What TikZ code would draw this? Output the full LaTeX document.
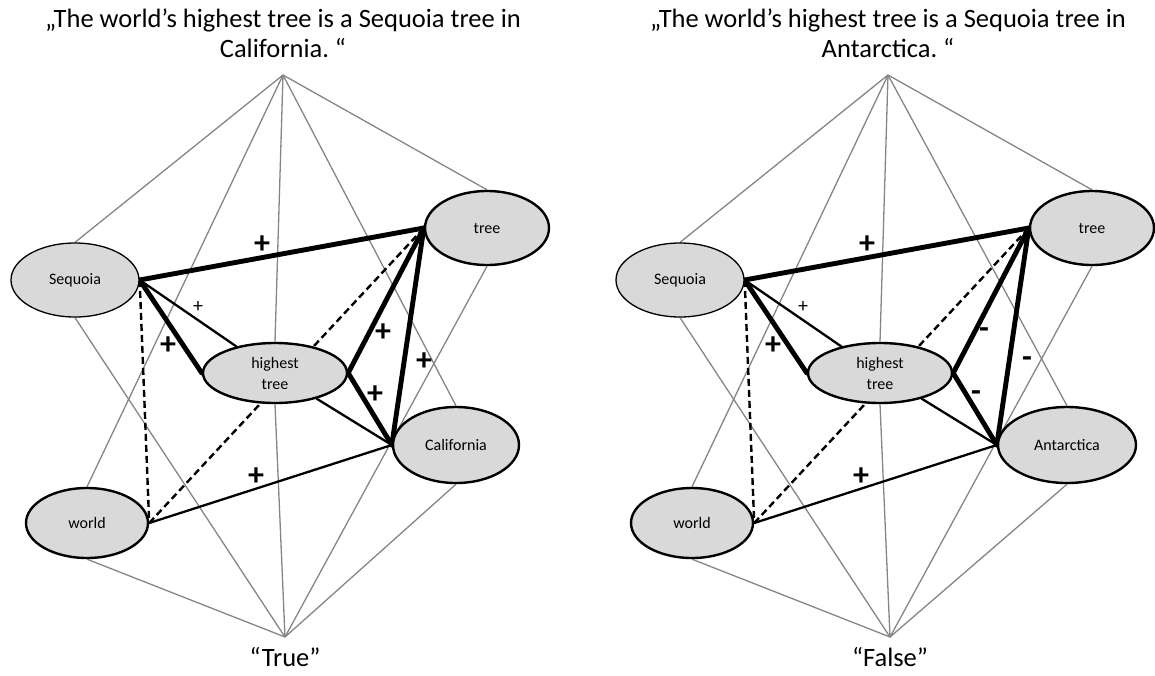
\documentclass[tikz,border=0pt]{standalone}
\usepackage{fontspec}
\setmainfont{Carlito}
\usetikzlibrary{shapes.geometric,backgrounds}
\frenchspacing

\begin{document}
\begin{tikzpicture}[x=1pt,y=-1pt,
  ell/.style={ellipse,draw=black,fill=black!15,line width=2.4pt,inner sep=0pt,
    font=\fontsize{16}{21}\selectfont,align=center},
  thinell/.style={ell,line width=1.3pt},
  title/.style={font=\fontsize{26.5}{30}\selectfont,align=center,inner sep=0pt},
  gline/.style={draw=black!48,line width=1.3pt},
  heavy/.style={draw=black,line width=4.9pt,line cap=round},
  medium/.style={draw=black,line width=2.3pt,line cap=round},
  dline/.style={draw=black,line width=2.4pt,dash pattern=on 7pt off 4pt},
  sign/.style={font=\fontsize{32}{32}\selectfont\bfseries,inner sep=0pt},
  smallsign/.style={font=\fontsize{20}{20}\selectfont,inner sep=0pt},
]
\useasboundingbox (0,0) rectangle (1155,675);

% ---------------- left network: California ----------------
\node[title] (Ltitle) at (283,33) {„The world’s highest tree is a Sequoia tree in\\California. “};
\node[title] (Lverdict) at (285,657) {“True”};
\coordinate (LT) at (283,75);
\coordinate (LB) at (285,637);

\node[thinell,minimum width=128pt,minimum height=74pt] (LS) at (75,280) {Sequoia};
\node[ell,minimum width=124pt,minimum height=74pt] (Ltr) at (487,228) {tree};
\node[ell,minimum width=144pt,minimum height=60pt] (Lh) at (275,373) {highest\\tree};
\node[ell,minimum width=126pt,minimum height=76pt] (Lc) at (456,445) {California};
\node[ell,minimum width=122pt,minimum height=70pt] (Lw) at (87,523) {world};

\begin{pgfonlayer}{background}
  \foreach \n in {LS.north,Lw.north,Lh.north,Lc.north,Ltr.north}
    \draw[gline] (LT) -- (\n);
  \foreach \n in {LS.south,Lw.south,Lh.south,Lc.south,Ltr.south}
    \draw[gline] (LB) -- (\n);
  \draw[heavy] (LS.east) -- (Ltr.west);
  \draw[heavy] (LS.east) -- (Lh.west);
  \draw[medium] (LS.east) -- (Lh);
  \draw[dline] (LS.east) -- (Lw.east);
  \draw[dline] (Lw.east) -- (Ltr.west);
  \draw[heavy] (Lh.east) -- (Ltr.west);
  \draw[heavy] (Lh.east) -- (Lc.west);
  \draw[medium] (Lh) -- (Lc.west);
  \draw[heavy] (Ltr.west) -- (Lc.west);
  \draw[medium] (Lw.east) -- (Lc.west);
\end{pgfonlayer}

\node[sign] (Lp1) at (262,245) {+};
\node[smallsign] (Lp2) at (198,307) {+};
\node[sign] (Lp3) at (168,346) {+};
\node[sign] (Lp4) at (383,333) {+};
\node[sign] (Lp5) at (424,362) {+};
\node[sign] (Lp6) at (375,395) {+};
\node[sign] (Lp7) at (256,477) {+};

% ---------------- right network: Antarctica ----------------
\node[title] (Rtitle) at (888,33) {„The world’s highest tree is a Sequoia tree in\\Antarctica. “};
\node[title] (Rverdict) at (890,657) {“False”};
\coordinate (RT) at (888,75);
\coordinate (RB) at (890,637);

\node[thinell,minimum width=128pt,minimum height=74pt] (RS) at (680,280) {Sequoia};
\node[ell,minimum width=124pt,minimum height=74pt] (Rtr) at (1092,228) {tree};
\node[ell,minimum width=144pt,minimum height=60pt] (Rh) at (880,373) {highest\\tree};
\node[ell,minimum width=138pt,minimum height=76pt] (Ra) at (1067,445) {Antarctica};
\node[ell,minimum width=122pt,minimum height=70pt] (Rw) at (692,523) {world};

\begin{pgfonlayer}{background}
  \foreach \n in {RS.north,Rw.north,Rh.north,Ra.north,Rtr.north}
    \draw[gline] (RT) -- (\n);
  \foreach \n in {RS.south,Rw.south,Rh.south,Ra.south,Rtr.south}
    \draw[gline] (RB) -- (\n);
  \draw[heavy] (RS.east) -- (Rtr.west);
  \draw[heavy] (RS.east) -- (Rh.west);
  \draw[medium] (RS.east) -- (Rh);
  \draw[dline] (RS.east) -- (Rw.east);
  \draw[dline] (Rw.east) -- (Rtr.west);
  \draw[heavy] (Rh.east) -- (Rtr.west);
  \draw[heavy] (Rh.east) -- (Ra.west);
  \draw[medium] (Rh) -- (Ra.west);
  \draw[heavy] (Rtr.west) -- (Ra.west);
  \draw[medium] (Rw.east) -- (Ra.west);
\end{pgfonlayer}

\node[sign] (Rp1) at (867,245) {+};
\node[smallsign] (Rp2) at (803,307) {+};
\node[sign] (Rp3) at (773,346) {+};
\node[sign] (Rm4) at (984,333) {-};
\node[sign] (Rm5) at (1027,362) {-};
\node[sign] (Rm6) at (976,396) {-};
\node[sign] (Rp7) at (861,477) {+};
\end{tikzpicture}
\end{document}
